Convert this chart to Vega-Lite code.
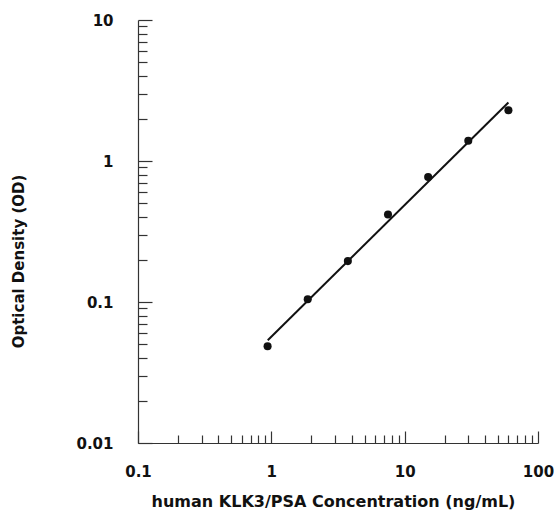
{
  "$schema": "https://vega.github.io/schema/vega-lite/v6.json",
  "width": 400,
  "height": 423,
  "autosize": {"type": "none"},
  "padding": {"left": 138, "top": 20, "right": 16, "bottom": 69},
  "background": "white",
  "config": {
    "view": {"stroke": null},
    "axis": {
      "grid": false,
      "labelFlush": false,
      "labelFont": "DejaVu Sans",
      "labelFontWeight": "bold",
      "labelFontSize": 15,
      "labelColor": "#111",
      "titleFont": "DejaVu Sans",
      "titleFontWeight": "bold",
      "titleFontSize": 15,
      "titleColor": "#111",
      "domainColor": "#333",
      "tickColor": "#333",
      "domainWidth": 1.2,
      "tickWidth": 1.2
    }
  },
  "datasets": {
    "points": [
      {"conc": 0.9375, "od": 0.0485},
      {"conc": 1.875, "od": 0.1045},
      {"conc": 3.75, "od": 0.195},
      {"conc": 7.5, "od": 0.417},
      {"conc": 15, "od": 0.77},
      {"conc": 30, "od": 1.39},
      {"conc": 60, "od": 2.29}
    ],
    "fit": [
      {"conc": 0.94, "od": 0.0535},
      {"conc": 60, "od": 2.6}
    ]
  },
  "resolve": {"axis": {"x": "independent", "y": "independent"}, "scale": {"x": "shared", "y": "shared"}},
  "layer": [
    {
      "data": {"name": "fit"},
      "mark": {"type": "line", "color": "#111", "strokeWidth": 2},
      "encoding": {
        "x": {
          "field": "conc", "type": "quantitative",
          "scale": {"type": "log", "domain": [0.1, 100], "nice": false},
          "axis": {
            "orient": "bottom",
            "values": [0.1, 1, 10, 100],
            "format": "~g",
            "tickSize": -12,
            "labelPadding": 33,
            "title": "human KLK3/PSA Concentration (ng/mL)",
            "titleFontSize": 16,
            "titleX": 195,
            "titleY": 58,
            "titleBaseline": "middle"
          }
        },
        "y": {
          "field": "od", "type": "quantitative",
          "scale": {"type": "log", "domain": [0.01, 10], "nice": false},
          "axis": {
            "orient": "left",
            "values": [0.01, 0.1, 1, 10],
            "format": "~g",
            "tickSize": -14,
            "labelPadding": 39,
            "title": "Optical Density (OD)",
            "titleX": -120,
            "titleY": 241,
            "titleBaseline": "middle"
          }
        }
      }
    },
    {
      "data": {"name": "points"},
      "mark": {"type": "point", "filled": true, "color": "#111", "size": 65, "opacity": 1},
      "encoding": {
        "x": {
          "field": "conc", "type": "quantitative",
          "axis": {
            "orient": "bottom",
            "values": [0.2, 0.3, 0.4, 0.5, 0.6, 0.7, 0.8, 0.9, 2, 3, 4, 5, 6, 7, 8, 9, 20, 30, 40, 50, 60, 70, 80, 90],
            "tickSize": -8,
            "labels": false,
            "domain": false,
            "title": null
          }
        },
        "y": {
          "field": "od", "type": "quantitative",
          "axis": {
            "orient": "left",
            "values": [0.02, 0.03, 0.04, 0.05, 0.06, 0.07, 0.08, 0.09, 0.2, 0.3, 0.4, 0.5, 0.6, 0.7, 0.8, 0.9, 2, 3, 4, 5, 6, 7, 8, 9],
            "tickSize": -9,
            "labels": false,
            "domain": false,
            "title": null
          }
        }
      }
    }
  ]
}
